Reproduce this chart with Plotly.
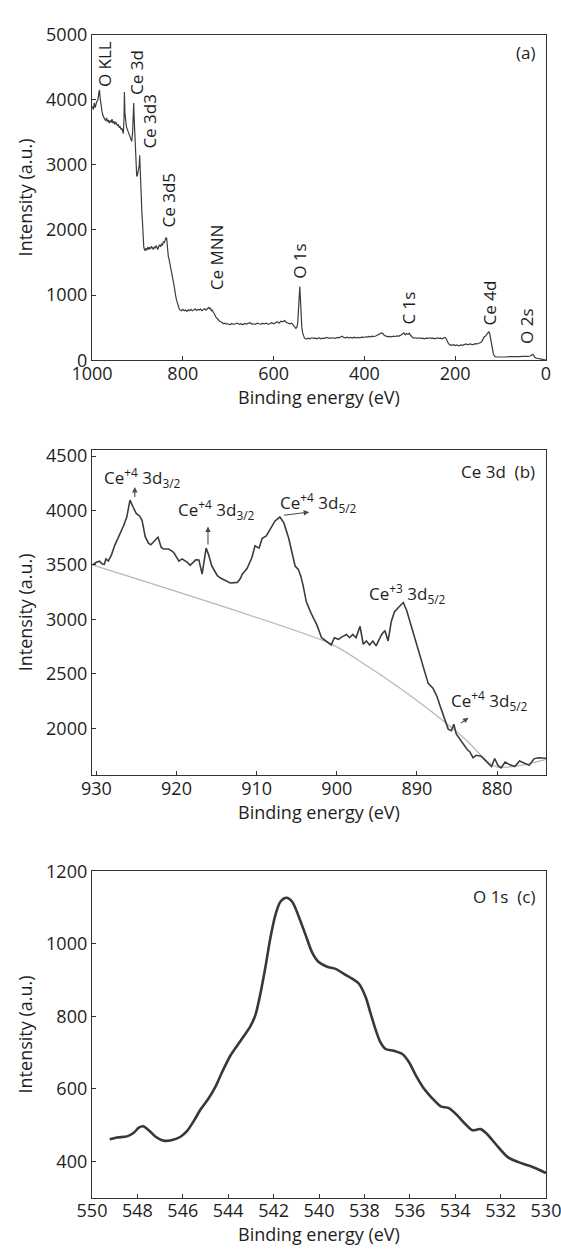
import plotly.graph_objects as go

# ---------------- data ----------------
# (a) survey spectrum
survey_E = [1000, 997, 995, 993, 990, 987, 985, 983.5, 982, 980, 978, 976, 974, 972, 970, 968, 966, 964, 962, 960,
            958, 956, 954, 952, 950, 948, 946, 944, 942, 940, 938, 936, 934, 932, 931, 929.5, 928.6, 927.5, 926, 924,
            922, 920, 918, 916, 914, 912.5, 910.5, 909, 908.1, 907, 905.5, 904, 903, 901.5, 900, 898.5, 897, 896, 895, 894,
            893, 891.5, 890, 889, 888, 887, 886, 884.5, 883, 881, 879, 877, 875, 873, 871, 869, 867, 865, 863, 861,
            859, 857, 855, 853, 851, 849, 847, 845, 843, 841, 839, 837, 835.5, 834, 832, 830, 828, 826, 824, 822,
            820, 818, 816, 814, 812, 810, 808, 806, 803, 800, 797, 794, 791, 788, 785, 782, 779, 776, 773, 770,
            767, 764, 761, 758, 755, 752, 749, 746, 743, 741, 739, 737, 735, 733, 731, 729, 727, 725, 722, 719,
            716, 713, 710, 707, 704, 700, 696, 692, 688, 684, 680, 676, 672, 668, 664, 660, 656, 652, 648, 644,
            640, 636, 632, 628, 624, 620, 616, 612, 608, 604, 600, 596, 592, 588, 584, 580, 576, 572, 568, 564,
            560, 556, 553, 551, 549, 547, 545, 543.5, 542.3, 541, 539.5, 538, 536, 534, 532, 530, 527, 524, 520, 516,
            512, 508, 504, 500, 496, 492, 488, 484, 480, 476, 472, 468, 464, 460, 456, 452, 449, 446, 442, 438,
            434, 430, 426, 422, 418, 414, 410, 406, 402, 398, 394, 390, 386, 382, 378, 374, 370, 366, 362, 359,
            356, 352, 348, 344, 340, 336, 332, 328, 324, 320, 316, 313, 310, 307, 304, 301, 298, 295, 292, 288,
            284, 280, 276, 272, 268, 264, 260, 256, 252, 248, 244, 240, 236, 232, 228, 225, 222, 220, 218, 215,
            212, 208, 204, 200, 196, 192, 188, 184, 180, 176, 172, 168, 164, 160, 156, 152, 148, 145, 142, 139,
            136, 133, 130, 128, 126, 124, 122, 120, 118, 116, 114, 112, 108, 100, 90, 80, 70, 60, 50, 45,
            40, 35, 31, 29, 27, 24, 20, 15, 10, 5, 0]
survey_I = [3900, 3850, 3950, 3880, 3960, 4000, 4100, 4150, 4020, 3880, 3820, 3760, 3720, 3700, 3680, 3720, 3660, 3690, 3640, 3680,
            3650, 3700, 3640, 3670, 3620, 3660, 3630, 3600, 3620, 3570, 3590, 3540, 3560, 3500, 3480, 3700, 4120, 3800, 3620, 3580,
            3540, 3500, 3460, 3420, 3380, 3360, 3500, 3700, 3950, 3700, 3420, 3100, 2920, 2820, 2840, 2880, 2920, 2990, 3145, 2900,
            2700, 2500, 2250, 2150, 1950, 1800, 1740, 1700, 1680, 1720, 1690, 1740, 1700, 1730, 1710, 1750, 1720, 1700, 1740, 1720,
            1760, 1730, 1700, 1750, 1770, 1740, 1790, 1760, 1820, 1800, 1850, 1880, 1870, 1740, 1600, 1540, 1450, 1390, 1320, 1250,
            1180, 1060, 1000, 930, 870, 820, 790, 770, 760, 780, 760, 770, 750, 775, 760, 780, 760, 770, 790, 765,
            780, 770, 785, 760, 780, 790, 770, 800, 810, 790, 805, 760, 770, 740, 700, 690, 660, 640, 620, 600,
            590, 575, 560, 570, 555, 560, 545, 565, 550, 560, 570, 550, 560, 545, 565, 555, 560, 575, 555, 560,
            550, 570, 560, 555, 565, 560, 570, 550, 560, 575, 560, 580, 590, 570, 600, 590, 610, 580, 575, 560,
            570, 540, 520, 490, 505, 560, 800, 1050, 1130, 950, 700, 520, 420, 370, 340, 330, 325, 340, 330, 345,
            335, 340, 330, 345, 330, 340, 335, 350, 340, 335, 345, 340, 335, 350, 345, 360, 370, 350, 345, 355,
            345, 350, 340, 355, 345, 350, 345, 355, 350, 360, 355, 365, 360, 370, 365, 375, 390, 400, 420, 410,
            380, 370, 360, 365, 360, 370, 365, 375, 370, 385, 400, 420, 390, 410, 400, 415, 380, 360, 340, 345,
            335, 345, 335, 340, 330, 340, 335, 345, 335, 340, 330, 345, 335, 340, 330, 345, 350, 330, 300, 260,
            240, 230, 240, 225, 235, 220, 235, 230, 240, 250, 235, 250, 245, 240, 255, 250, 260, 265, 280, 320,
            360, 370, 400, 430, 440, 410, 330, 230, 150, 100, 70, 55, 50, 55, 50, 55, 50, 55, 60, 55,
            60, 65, 80, 90, 70, 40, 30, 20, 15, 10, 5]

survey_labels = ["O KLL", "Ce 3d", "Ce 3d3", "Ce 3d5", "Ce MNN", "O 1s", "C 1s", "Ce 4d", "O 2s"]
survey_label_E = [970.9, 901.9, 873.9, 830.9, 725.2, 543.1, 302.4, 125.6, 41.8]
survey_label_I = [4550, 4420, 3668, 2465, 1578, 1518, 804, 887, 511]

# (b) Ce 3d high resolution
ce3d_E = [930.5, 930.0, 929.6, 929.3, 929.0, 928.8, 928.5, 928.1, 927.7, 927.3, 927.0, 926.6, 926.2, 925.8, 925.4,
          925.0, 924.6, 924.3, 923.9, 923.5, 923.2, 922.8, 922.3, 921.9, 921.6, 921.0, 920.6, 920.3, 919.7, 919.3,
          918.9, 918.6, 918.3, 917.9, 917.6, 917.2, 916.8, 916.5, 916.3, 916.0, 915.6, 915.2, 914.9, 914.5, 914.1,
          913.6, 913.3, 912.8, 912.4, 912.0, 911.8, 911.5, 911.2, 910.6, 910.2, 909.7, 909.3, 908.8, 908.3, 907.7,
          907.1, 906.6, 906.0, 905.6, 905.2, 904.8, 904.5, 904.2, 903.8, 903.2, 902.5, 901.9, 901.3, 900.7, 900.3,
          899.8, 899.4, 898.8, 898.4, 898.0, 897.6, 897.1, 896.7, 896.3, 895.9, 895.5, 895.1, 894.4, 894.0, 893.6,
          893.2, 892.8, 892.1, 891.7, 891.3, 890.7, 890.0, 889.6, 889.0, 888.6, 888.0, 887.5, 887.1, 886.7, 886.1,
          885.7, 885.4, 885.1, 884.7, 884.3, 883.8, 883.4, 883.0, 882.6, 882.0, 881.5, 881.1, 880.7, 880.3, 879.9,
          879.5, 879.0, 878.4, 877.8, 877.2, 876.6, 876.0, 875.4, 874.8, 873.9]
ce3d_I = [3500, 3525, 3535, 3510, 3505, 3555, 3536, 3595, 3680, 3745, 3790, 3860, 3940, 4096, 4030,
          3970, 3950, 3910, 3760, 3700, 3685, 3715, 3754, 3660, 3646, 3646, 3630, 3610, 3536, 3556,
          3540, 3521, 3496, 3530, 3547, 3545, 3416, 3560, 3655, 3595, 3491, 3440, 3401, 3380, 3365,
          3345, 3335, 3338, 3340, 3380, 3416, 3440, 3467, 3566, 3676, 3655, 3745, 3766, 3835, 3904,
          3940, 3886, 3745, 3610, 3490, 3460, 3400, 3311, 3161, 3056, 2952, 2832, 2802, 2766, 2832,
          2817, 2838, 2862, 2832, 2862, 2832, 2937, 2772, 2802, 2766, 2802, 2757, 2862, 2898, 2802,
          2982, 3071, 3125, 3155, 3086, 2937, 2757, 2667, 2532, 2413, 2368, 2293, 2203, 2113, 1993,
          1978, 2038, 1948, 1903, 1858, 1813, 1783, 1730, 1753, 1745, 1708, 1678, 1648, 1723, 1660,
          1638, 1690, 1665, 1650, 1700, 1680, 1660, 1720, 1730, 1725]
bg_E = [930.5, 900.7, 896.3, 892.1, 888.0, 883.8, 881.3, 880.0, 877.0, 873.9]
bg_I = [3500, 2775, 2577, 2368, 2143, 1888, 1700, 1645, 1660, 1715]

ce3d_labels = ["Ce<sup>+4</sup> 3d<sub>3/2</sub>", "Ce<sup>+4</sup> 3d<sub>3/2</sub>", "Ce<sup>+4</sup> 3d<sub>5/2</sub>",
               "Ce<sup>+3</sup> 3d<sub>5/2</sub>", "Ce<sup>+4</sup> 3d<sub>5/2</sub>"]
ce3d_label_E = [924.2, 915.0, 902.25, 891.15, 881.0]
ce3d_label_I = [4302, 4006, 4078, 3242, 2254]
arrow_tail_E = [925.2, 916.07, 906.79, 884.7]
arrow_tail_I = [4110, 3673, 3955, 2038]
arrow_head_E = [925.2, 916.07, 903.44, 883.57]
arrow_head_I = [4215, 3853, 3985, 2098]

# (c) O 1s high resolution
o1s_E = [549.22, 548.9, 548.46, 548.16, 547.94, 547.75, 547.5, 547.2, 546.84, 546.47, 546.1, 545.81, 545.52, 545.22,
         544.86, 544.56, 544.27, 543.9, 543.46, 543.02, 542.8, 542.58, 542.36, 542.14, 541.92, 541.7, 541.43, 541.18,
         540.89, 540.6, 540.3, 540.0, 539.64, 539.27, 538.9, 538.54, 538.24, 537.95, 537.73, 537.51, 537.29, 537.07,
         536.7, 536.33, 536.04, 535.74, 535.38, 535.01, 534.64, 534.28, 533.91, 533.54, 533.25, 532.88, 532.59,
         532.22, 531.67, 531.04, 530.57, 530.0]
o1s_I = [461, 466, 469, 479, 493, 497, 486, 468, 457, 459, 468, 484, 511, 543,
         574, 606, 646, 692, 732, 773, 804, 863, 936, 1017, 1080, 1116, 1127, 1116,
         1075, 1026, 976, 949, 937, 931, 917, 904, 890, 854, 809, 764, 728, 710,
         705, 696, 674, 638, 601, 574, 552, 547, 527, 502, 486, 489, 475,
         448, 411, 394, 384, 368]

# ---------------- figure ----------------
FONT = "Open Sans"
TXT = "#1e1e1e"
AX = "#333333"
H = 1258.0

def dom(top_px, bot_px):
    return [1 - bot_px / H, 1 - top_px / H]

fig = go.Figure()
fig.add_trace(go.Scatter(x=survey_E, y=survey_I, mode="lines", xaxis="x", yaxis="y",
                         line=dict(color="#3c3c3c", width=1.2), showlegend=False, hoverinfo="skip"))
fig.add_trace(go.Scatter(x=bg_E, y=bg_I, mode="lines", xaxis="x2", yaxis="y2",
                         line=dict(color="#b8b8b8", width=1.3, shape="spline", smoothing=0.6), showlegend=False))
fig.add_trace(go.Scatter(x=ce3d_E, y=ce3d_I, mode="lines", xaxis="x2", yaxis="y2",
                         line=dict(color="#3c3c3c", width=1.6), showlegend=False))
fig.add_trace(go.Scatter(x=o1s_E, y=o1s_I, mode="lines", xaxis="x3", yaxis="y3",
                         line=dict(color="#383838", width=2.6, shape="spline", smoothing=0.8), showlegend=False))

axis_common = dict(showline=True, linecolor=AX, linewidth=1.3, mirror=True, ticks="inside",
                   ticklen=4, tickwidth=1.2, tickcolor=AX, showgrid=False, zeroline=False,
                   ticklabeloverflow="allow",
                   tickfont=dict(family=FONT, size=18, color=TXT))
x_common = dict(axis_common, ticklabelstandoff=-3)

xt = dict(text="Binding energy (eV)", font=dict(family=FONT, size=18, color=TXT), standoff=4)
yt = dict(text="Intensity (a.u.)", font=dict(family=FONT, size=18, color=TXT), standoff=8)

fig.update_layout(
    width=561, height=1258,
    margin=dict(l=92, r=15, t=0, b=0),
    paper_bgcolor="white", plot_bgcolor="white",
    font=dict(family=FONT, color=TXT),
    xaxis=dict(x_common, domain=[0, 1], anchor="y", range=[1000, 0], dtick=200, title=xt),
    yaxis=dict(axis_common, domain=dom(22, 354), anchor="x", range=[0, 5000], dtick=1000, title=yt),
    xaxis2=dict(x_common, domain=[0, 1], anchor="y2", range=[930.54, 873.9], dtick=10, title=xt),
    yaxis2=dict(axis_common, domain=dom(445, 777), anchor="x2", range=[1570, 4560],
                tickvals=[2000, 2500, 3000, 3500, 4000, 4500], title=yt),
    xaxis3=dict(x_common, domain=[0, 1], anchor="y3", range=[550, 530],
                tickvals=[550, 548, 546, 544, 542, 540, 538, 536, 534, 532, 530], title=xt),
    yaxis3=dict(axis_common, domain=dom(875, 1207.7), anchor="x3", range=[300, 1200], dtick=200, title=yt),
)

ann = []
for t, e, i in zip(survey_labels, survey_label_E, survey_label_I):
    ann.append(dict(text=t, x=e, y=i, xref="x", yref="y", showarrow=False, textangle=-90,
                    xanchor="center", yanchor="middle", font=dict(family=FONT, size=17, color=TXT)))
for t, e, i in zip(ce3d_labels, ce3d_label_E, ce3d_label_I):
    ann.append(dict(text=t, x=e, y=i, xref="x2", yref="y2", showarrow=False,
                    xanchor="center", yanchor="middle", font=dict(family=FONT, size=17, color=TXT)))
for te, ti, he, hi in zip(arrow_tail_E, arrow_tail_I, arrow_head_E, arrow_head_I):
    ann.append(dict(text="", x=he, y=hi, xref="x2", yref="y2", ax=te, ay=ti, axref="x2", ayref="y2",
                    showarrow=True, arrowhead=2, arrowsize=1, arrowwidth=1.1, arrowcolor="#4a4a4a"))
panel_tags = [("(a)", "x", "y", 0.946), ("Ce 3d&nbsp;&nbsp;(b)", "x2", "y2", 0.932), ("O 1s&nbsp;&nbsp;(c)", "x3", "y3", 0.923)]
for t, xr, yr, yy in panel_tags:
    ann.append(dict(text=t, x=0.9795, y=yy, xref=xr + " domain", yref=yr + " domain", showarrow=False,
                    xanchor="right", yanchor="middle", font=dict(family=FONT, size=17, color=TXT)))
fig.update_layout(annotations=ann)

fig.write_html("out.html")
